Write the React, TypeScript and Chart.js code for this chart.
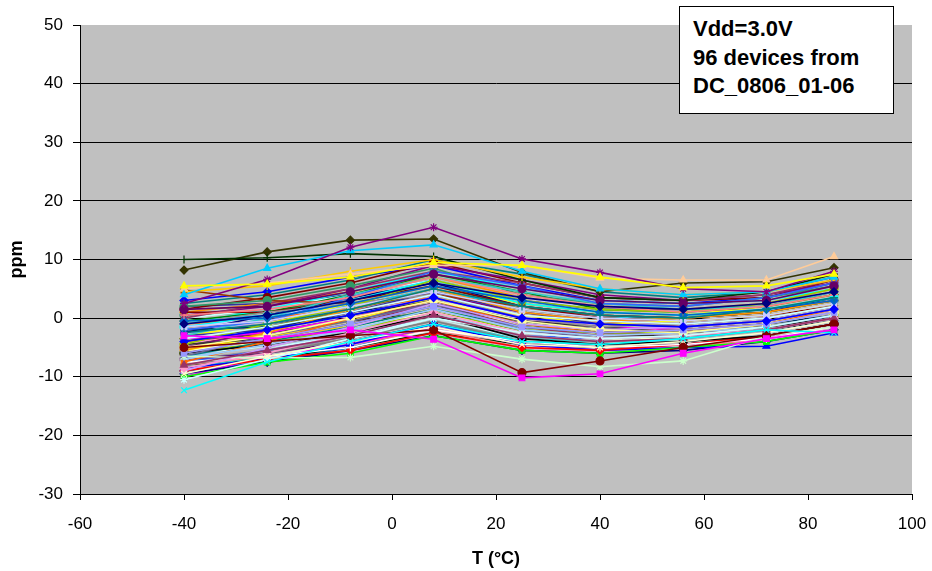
import React, { useEffect, useRef } from 'react';
import { Chart, registerables } from 'chart.js';

Chart.register(...registerables);

// Temperatures (°C) at which each device was measured
const temps = [-40, -24, -8, 8, 25, 40, 56, 72, 85];

// Axis ranges / ticks
const yMin = -30;
const yMax = 50;
const yStep = 10;
const xMin = -60;
const xMax = 100;
const xStep = 20;

const noteLines = ['Vdd=3.0V', '96 devices from', 'DC_0806_01-06'];

// ppm deviation per device (one row per device, one value per temperature)
const devicePpm: number[][] = [
  [-1.0, 0.5, 3.0, 6.0, 3.5, 2.0, 1.5, 2.5, 4.5],
  [-3.0, -3.5, -2.0, -3.6, -10.2, -9.5, -6.0, -3.5, -2.0],
  [5.5, 5.8, 7.0, 9.5, 9.0, 7.0, 5.2, 5.5, 7.5],
  [-12.3, -7.5, -4.0, -1.0, -4.0, -4.5, -3.5, -2.0, -2.5],
  [2.5, 6.6, 12.1, 15.5, 10.1, 7.8, 5.0, 4.5, 8.0],
  [-5.0, -4.0, -3.0, -2.0, -9.3, -7.3, -5.0, -3.0, -1.0],
  [-2.5, -1.0, 1.5, 5.0, 2.0, 0.5, 0.0, 1.5, 3.5],
  [-4.0, -2.0, 0.5, 3.5, 0.0, -1.0, -1.5, -0.5, 1.5],
  [-6.0, -3.5, -1.0, 2.0, -1.5, -2.5, -2.0, -1.0, 1.0],
  [-8.0, -5.5, -3.0, 0.5, -3.0, -4.0, -3.5, -2.0, 0.0],
  [-9.5, -6.5, -4.0, -1.5, -4.5, -5.0, -4.0, -2.5, -0.5],
  [-10.5, -7.0, -3.5, 0.0, -2.5, -3.5, -3.0, -1.5, 0.5],
  [1.5, 2.0, 4.5, 7.5, 5.0, 3.0, 2.5, 3.0, 5.5],
  [0.5, 1.5, 3.5, 7.0, 4.0, 2.0, 1.0, 2.0, 4.0],
  [-0.5, 0.0, 2.5, 5.5, 3.0, 1.0, 0.5, 1.5, 3.0],
  [-1.5, -0.5, 2.0, 4.5, 1.5, 0.0, -0.5, 0.5, 2.5],
  [4.0, 8.5, 11.5, 12.5, 8.0, 5.0, 4.0, 4.5, 7.0],
  [-3.5, -1.5, 1.0, 4.0, 0.5, -0.5, -1.0, 0.0, 2.0],
  [-6.5, -6.8, -6.7, -4.8, -7.0, -8.3, -7.3, -3.0, -1.5],
  [-5.0, -3.0, 0.0, 3.0, -0.5, -2.0, -2.5, -1.0, 1.0],
  [-7.0, -4.5, -2.0, 1.5, -2.0, -3.0, -2.5, -1.5, 0.5],
  [-8.5, -6.0, -2.5, 1.0, -2.5, -3.5, -3.0, -2.0, 0.0],
  [-9.0, -5.0, -1.5, 2.5, -1.0, -2.0, -1.5, -0.5, 1.5],
  [5.0, 6.0, 7.5, 9.0, 9.0, 6.8, 6.5, 6.5, 10.5],
  [-2.0, -0.5, 3.5, 8.0, 5.5, 2.5, 2.0, 3.5, 6.0],
  [-3.0, 0.0, 4.0, 7.0, 4.5, 2.5, 1.5, 2.0, 4.5],
  [-4.5, -1.0, 2.0, 6.5, 3.0, 1.5, 1.0, 2.5, 5.0],
  [4.5, 5.5, 8.0, 10.0, 7.0, 5.0, 4.0, 4.5, 6.5],
  [-5.5, -2.5, 1.5, 5.0, 1.0, -0.5, 0.0, 1.0, 3.0],
  [-7.5, -4.0, 0.0, 3.0, -1.0, -2.5, -2.0, -1.0, 1.5],
  [-6.5, -3.0, -0.5, 2.5, -2.0, -3.5, -3.0, -2.0, 0.0],
  [-1.0, 1.0, 2.5, 4.0, 0.0, -1.5, -1.0, 0.0, 2.0],
  [-2.0, -1.5, 0.5, 3.0, -1.0, -2.5, -2.0, -1.0, 0.5],
  [2.0, 3.0, 5.5, 8.5, 4.0, 2.5, 2.0, 3.5, 5.5],
  [10.0, 10.3, 11.0, 10.5, 6.5, 3.5, 3.0, 4.5, 7.5],
  [8.2, 11.3, 13.3, 13.5, 7.8, 4.5, 6.0, 6.2, 8.6],
  [4.8, 3.0, 2.5, 4.0, 2.0, 0.5, 0.0, 1.0, 3.0],
  [0.0, 2.5, 5.0, 8.0, 6.0, 3.5, 3.0, 4.0, 6.5],
  [-3.0, -2.0, 1.0, 4.5, 1.0, -1.0, -1.5, -0.5, 1.5],
  [-4.5, -3.5, -1.0, 2.0, -0.5, -1.5, -2.5, -1.5, 0.0],
  [-6.0, -4.5, -2.5, 0.5, -3.5, -4.5, -4.0, -3.0, -1.0],
  [-7.5, -6.5, -5.0, -2.0, -4.0, -5.0, -4.5, -3.5, -1.5],
  [-9.0, -7.0, -5.5, -2.5, -5.0, -5.5, -4.5, -3.0, -1.0],
  [-10.0, -7.5, -6.0, -3.0, -5.5, -6.0, -5.0, -4.0, -2.0],
  [-8.5, -7.0, -4.5, -1.0, -4.5, -5.5, -5.0, -4.8, -2.5],
  [-5.5, -3.0, -0.5, 3.5, 0.5, -1.0, -0.5, 0.5, 2.5],
  [-3.5, -2.5, 0.0, 3.5, 0.0, -1.5, -2.0, -1.0, 1.0],
  [-1.5, 0.5, 3.0, 6.5, 2.5, 1.0, 0.5, 1.5, 3.5],
  [1.0, 1.0, 3.0, 5.5, 2.0, 0.0, -0.5, 0.5, 2.0],
  [-0.5, 1.0, 4.0, 7.5, 4.5, 1.5, 1.0, 2.0, 4.0],
  [-2.5, 0.5, 3.5, 6.0, 2.0, 0.5, 0.0, 1.0, 3.5],
  [-4.0, -1.5, 1.5, 4.5, 1.5, 0.0, -0.5, 0.5, 2.5],
  [-5.0, -2.0, 1.0, 4.0, 1.0, -0.5, -1.0, 0.0, 2.0],
  [-6.5, -4.0, -1.5, 1.5, -1.5, -2.5, -2.0, -1.0, 1.0],
  [-7.0, -5.0, -2.0, 0.0, -3.0, -4.0, -3.5, -2.5, -0.5],
  [-8.0, -6.0, -3.5, -0.5, -4.0, -4.5, -4.0, -3.0, -1.0],
  [-9.5, -7.5, -5.5, -3.0, -5.5, -6.0, -5.5, -4.0, -2.0],
  [-10.0, -6.5, -4.5, -1.5, -4.5, -5.5, -4.5, -3.5, -1.5],
  [-3.0, -1.0, 2.5, 5.5, 2.5, 1.0, 0.5, 2.0, 4.0],
  [-1.0, 1.5, 4.5, 8.0, 5.0, 3.0, 2.5, 3.0, 5.0],
  [0.5, 2.0, 5.0, 9.0, 6.5, 4.0, 3.0, 4.0, 6.0],
  [1.5, 3.5, 6.0, 9.5, 6.0, 3.5, 3.0, 3.5, 6.5],
  [2.5, 4.0, 6.5, 10.0, 7.5, 4.5, 3.5, 4.5, 7.0],
  [3.0, 4.5, 7.0, 9.0, 5.5, 3.0, 2.5, 3.5, 6.0],
  [-2.5, -1.5, 1.5, 4.5, 0.5, -1.0, -1.0, 0.0, 2.0],
  [-4.0, -2.5, 0.0, 2.5, -1.5, -3.0, -2.5, -1.5, 0.5],
  [-5.5, -4.0, -1.5, 1.0, -2.5, -3.5, -3.5, -2.0, 0.0],
  [-6.0, -5.0, -3.0, 0.0, -3.5, -4.5, -4.0, -2.5, -0.5],
  [-7.0, -6.0, -4.0, -1.0, -4.0, -5.0, -4.5, -3.0, -1.0],
  [-8.0, -6.5, -4.5, -2.0, -5.0, -5.5, -5.0, -3.5, -1.5],
  [-9.0, -7.5, -5.0, -1.5, -4.0, -4.5, -4.0, -2.5, -0.5],
  [-1.5, 0.0, 3.0, 6.0, 3.5, 1.5, 1.0, 2.0, 4.0],
  [-0.5, 0.5, 2.0, 5.0, 1.5, 0.0, 0.0, 1.0, 3.0],
  [0.0, 1.5, 4.0, 6.5, 3.0, 1.0, 0.5, 1.5, 3.5],
  [-3.5, -2.0, 0.5, 3.0, 0.0, -1.5, -1.5, -0.5, 1.0],
  [-5.0, -3.5, -1.0, 2.0, -1.0, -2.0, -2.0, -1.0, 1.0],
  [-6.5, -5.0, -2.5, 0.5, -2.5, -3.5, -3.0, -2.0, 0.0],
  [-4.5, -2.0, 0.5, 3.5, 0.5, -1.0, -1.0, 0.0, 2.0],
  [-2.0, -1.0, 1.5, 4.0, 1.0, -0.5, -0.5, 0.5, 2.5],
  [-3.0, -1.0, 2.0, 5.0, 2.0, 0.5, 0.0, 1.5, 3.5],
  [-7.5, -5.5, -3.0, 0.0, -3.0, -3.5, -3.0, -2.0, 0.5],
  [-8.5, -6.5, -4.0, -1.0, -3.5, -4.0, -3.5, -2.0, 0.0],
  [-6.0, -4.0, -2.0, 1.0, -2.0, -2.5, -2.5, -1.5, 0.5],
  [-4.0, -3.0, -1.5, 1.5, -1.5, -2.0, -2.0, -1.5, 0.0],
  [1.0, 2.5, 4.5, 7.0, 3.5, 2.0, 1.5, 2.5, 5.0],
  [-1.0, 0.0, 1.5, 3.5, 0.5, -0.5, -1.5, -0.5, 1.0],
  [-5.0, -3.0, -0.5, 2.5, -0.5, -2.0, -1.5, -0.5, 1.5],
  [-7.0, -5.5, -3.5, -0.5, -3.5, -4.0, -3.5, -2.5, -0.5],
  [-2.5, -1.0, 1.0, 3.0, -0.5, -2.0, -2.0, -1.0, 1.0],
  [0.5, 1.0, 3.5, 6.0, 2.5, 1.0, 0.5, 1.0, 3.0],
  [-8.0, -7.0, -5.0, -2.5, -4.5, -5.0, -4.5, -3.0, -1.0],
  [-3.5, -2.5, 0.0, 2.5, -1.0, -2.5, -2.5, -1.5, 0.0],
  [-1.5, -0.5, 2.0, 5.0, 1.5, 0.5, 0.0, 1.0, 3.0],
  [-6.0, -3.5, -1.0, 2.5, -0.5, -1.5, -1.0, 0.0, 2.0],
  [2.0, 2.5, 4.0, 6.5, 3.0, 1.5, 1.5, 2.0, 4.5],
  [-4.5, -2.5, -0.5, 1.0, -2.0, -3.0, -3.0, -2.0, -0.5],
];

// Excel-like series palette and marker cycle
const palette = [
  '#000080', '#FF00FF', '#FFFF00', '#00FFFF', '#800080', '#800000', '#008080', '#0000FF',
  '#9999FF', '#993366', '#FFFFCC', '#CCFFFF', '#660066', '#FF8080', '#0066CC', '#CCCCFF',
  '#00CCFF', '#CCFFFF', '#CCFFCC', '#FFFF99', '#99CCFF', '#FF99CC', '#CC99FF', '#FFCC99',
  '#3366FF', '#33CCCC', '#99CC00', '#FFCC00', '#FF9900', '#FF6600', '#666699', '#969696',
  '#003366', '#339966', '#003300', '#333300', '#993300', '#993366', '#333399', '#333333',
  '#000000', '#FFFFFF', '#FF0000', '#00FF00', '#0000FF', '#FFFF00', '#FF00FF', '#00FFFF',
  '#800000', '#008000', '#000080', '#808000', '#800080', '#008080', '#C0C0C0', '#808080',
];
const markers = ['rectRot', 'rect', 'triangle', 'crossRot', 'star', 'circle', 'cross'];

const FONT = '"Liberation Sans", Arial, sans-serif';

const plotBg = {
  id: 'plotBg',
  beforeDraw(chart: any) {
    const { ctx, chartArea } = chart;
    if (!chartArea) return;
    ctx.save();
    ctx.fillStyle = '#C0C0C0';
    ctx.fillRect(chartArea.left, chartArea.top, chartArea.right - chartArea.left, chartArea.bottom - chartArea.top);
    ctx.restore();
  },
};

export default function App() {
  const canvasRef = useRef<HTMLCanvasElement | null>(null);

  useEffect(() => {
    document.body.style.margin = '0';
    const canvas = canvasRef.current;
    if (!canvas) return;
    const datasets = devicePpm.map((row, i) => {
      const c = palette[i % palette.length];
      return {
        label: 'Device ' + (i + 1),
        data: temps.map((t, j) => ({ x: t, y: row[j] })),
        borderColor: c,
        backgroundColor: c,
        borderWidth: 1.6,
        pointStyle: markers[i % markers.length] as any,
        pointRadius: 4,
        pointBorderWidth: 1.2,
        pointHoverRadius: 4,
        tension: 0,
        fill: false,
      };
    });
    const chart = new Chart(canvas, {
      type: 'line',
      data: { datasets },
      plugins: [plotBg],
      options: {
        animation: false,
        responsive: false,
        events: [],
        layout: { padding: { top: 25, right: 20, left: 0, bottom: 0 } },
        plugins: { legend: { display: false }, tooltip: { enabled: false } },
        scales: {
          x: {
            type: 'linear',
            min: xMin,
            max: xMax,
            ticks: { stepSize: xStep, color: '#000', font: { family: FONT, size: 17 }, padding: 14, maxRotation: 0 },
            grid: { drawOnChartArea: false, drawTicks: true, tickLength: 6, tickColor: '#000', color: '#000' },
            border: { display: true, color: '#000', width: 1 },
            title: { display: true, text: 'T (°C)', color: '#000', font: { family: FONT, size: 18, weight: 'bold' }, padding: { top: 0, bottom: 1 } },
            afterFit: (s: any) => {
              s.height = 77;
              s.paddingLeft = 0;
              s.paddingRight = 0;
            },
          },
          y: {
            type: 'linear',
            min: yMin,
            max: yMax,
            ticks: { stepSize: yStep, color: '#000', font: { family: FONT, size: 17 }, padding: 10 },
            grid: {
              drawTicks: true,
              tickLength: 7,
              tickColor: '#000',
              color: (ctx: any) => (ctx.tick && ctx.tick.value === yMax ? 'rgba(0,0,0,0)' : '#000'),
              lineWidth: 1,
            },
            border: { display: true, color: '#000', width: 1 },
            title: { display: true, text: 'ppm', color: '#000', font: { family: FONT, size: 18, weight: 'bold' }, padding: { top: 6, bottom: 0 } },
            afterFit: (s: any) => {
              s.width = 80;
              s.paddingTop = 0;
              s.paddingBottom = 0;
            },
          },
        },
      },
    });
    return () => chart.destroy();
  }, []);

  return (
    <div style={{ position: 'relative', width: 932, height: 571 }}>
      <canvas ref={canvasRef} width={932} height={571} style={{ display: 'block' }} />
      <div
        style={{
          position: 'absolute',
          left: 679,
          top: 6,
          width: 215,
          height: 108,
          boxSizing: 'border-box',
          border: '1px solid #000',
          background: '#fff',
          fontFamily: FONT,
          fontWeight: 'bold',
          fontSize: 22,
          lineHeight: '28.5px',
          paddingLeft: 13,
          paddingTop: 8,
          color: '#000',
          whiteSpace: 'nowrap',
        }}
      >
        {noteLines.map((l) => (
          <div key={l}>{l}</div>
        ))}
      </div>
    </div>
  );
}
